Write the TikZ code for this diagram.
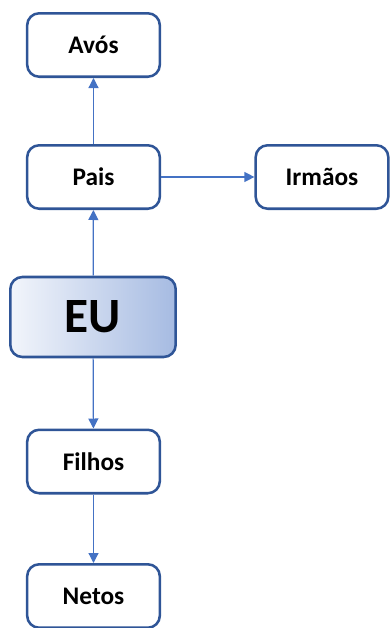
\documentclass[tikz,border=0pt]{standalone}
\usepackage{fontspec}
\setmainfont{Carlito}
\usetikzlibrary{arrows.meta}
\definecolor{boxline}{RGB}{47,85,151}
\definecolor{arrowblue}{RGB}{68,114,196}
\definecolor{eulight}{RGB}{242,245,251}
\definecolor{eudark}{RGB}{166,187,226}

\begin{document}
\begin{tikzpicture}[x=0.75pt,y=-0.75pt,
  box/.style={draw=boxline,line width=1.9pt,rounded corners=9pt,inner sep=0pt,
    minimum width=99.5pt,minimum height=47.6pt,font=\fontsize{19}{21}\selectfont\bfseries},
  eubox/.style={box,minimum width=124pt,minimum height=60pt,
    left color=eulight,right color=eudark,font=\fontsize{37}{40}\selectfont\bfseries},
  link/.style={arrowblue,line width=0.9pt,-{Triangle[length=7.5pt,width=7.5pt]}}]
\useasboundingbox (0,0) rectangle (389,628);
% The family boxes
\node[box] (avos) at (93.5,45) {Avós};
\node[box] (pais) at (93.5,177) {Pais};
\node[box] (irmaos) at (322,177) {Irmãos};
\node[eubox] (eu) at (93,317) {EU};
\node[box] (filhos) at (93.5,461.5) {Filhos};
\node[box] (netos) at (93.5,596) {Netos};
% Links between them
\draw[link] (pais) -- (avos);
\draw[link] (eu) -- (pais);
\draw[link] (pais) -- (irmaos);
\draw[link] (eu) -- (filhos);
\draw[link] (filhos) -- (netos);
\end{tikzpicture}
\end{document}
